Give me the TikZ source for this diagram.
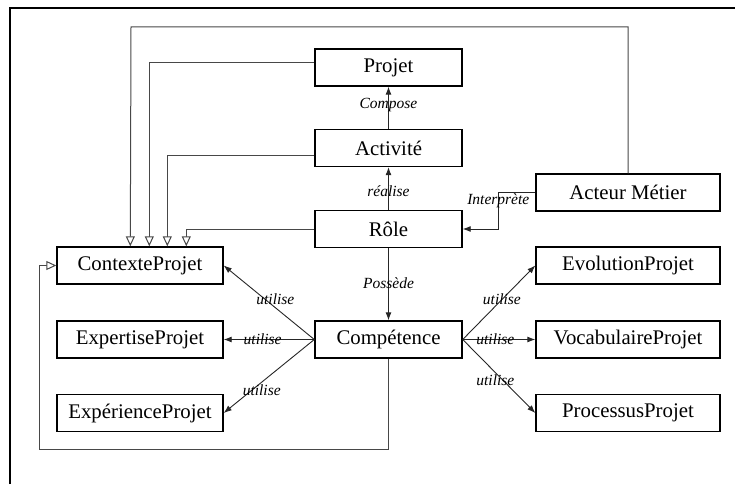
\documentclass[tikz,border=0pt]{standalone}
\usepackage{fontspec}
\setmainfont{Liberation Serif}
\usetikzlibrary{arrows.meta}

\begin{document}
\begin{tikzpicture}[x=1pt,y=-1pt,
  every node/.style={font=\fontsize{20.8}{24}\selectfont},
  boite/.style={draw,line width=1.4pt,minimum width=147pt,minimum height=37pt,inner sep=0pt},
  large/.style={boite,minimum width=166pt},
  droite/.style={boite,minimum width=184pt},
  lab/.style={font=\fontsize{15.5}{18}\selectfont\itshape,inner sep=0pt},
  fleche/.style={draw=black!85,line width=0.9pt,-{Latex[length=8pt,width=6pt]}},
  lien/.style={draw=black!72,line width=1pt,-{Triangle[open,length=10pt,width=9pt,fill=white]}}]
\useasboundingbox (0,0) rectangle (735,484);
\draw[line width=1.4pt] (10,484) -- (10,8) -- (735,8);
% boites du centre
\node[boite] (projet) at (388.5,67.5) {Projet};
\node[boite] (activite) at (388.5,148) {Activité};
\node[boite] (role) at (388.5,229) {Rôle};
\node[boite] (competence) at (388.5,339.5) {Compétence};
% boites de gauche
\node[large] (contexte) at (140,265.5) {ContexteProjet};
\node[large] (expertise) at (140,339.5) {ExpertiseProjet};
\node[large] (experience) at (140,413) {ExpérienceProjet};
% boites de droite
\node[droite] (acteur) at (628,192.5) {Acteur Métier};
\node[droite] (evolution) at (628,265.5) {EvolutionProjet};
\node[droite] (vocabulaire) at (628,339.5) {VocabulaireProjet};
\node[droite] (processus) at (628,413) {ProcessusProjet};
% liens vers ContexteProjet
\draw[lien] (acteur.north) |- (131,27) -- ([xshift=74pt]contexte.north west);
\draw[lien] ([yshift=4.5pt]projet.west) -| ([xshift=93pt]contexte.north west);
\draw[lien] ([yshift=-7pt]activite.west) -| ([xshift=111pt]contexte.north west);
\draw[lien] (role.west) -| ([xshift=130pt]contexte.north west);
\draw[lien] (competence.south) |- (39,449) |- (contexte.west);
% relations
\draw[fleche] (activite) -- (projet) node[lab,midway,yshift=3pt] {Compose};
\draw[fleche] (role) -- (activite) node[lab,midway,yshift=-3pt] {réalise};
\draw[fleche] (acteur.west) -- ++(-37,0) node[lab,pos=1,yshift=-8pt] {Interprète} |- (role.east);
\draw[fleche] (role) -- (competence) node[lab,midway,yshift=1pt] {Possède};
\draw[fleche] (competence.west) -- (contexte.east) node[lab,pos=0.43,yshift=8pt] {utilise};
\draw[fleche] (competence.west) -- (expertise.east) node[lab,pos=0.57] {utilise};
\draw[fleche] (competence.west) -- (experience.east) node[lab,pos=0.58,yshift=-8pt] {utilise};
\draw[fleche] (competence.east) -- (evolution.west) node[lab,pos=0.54] {utilise};
\draw[fleche] (competence.east) -- (vocabulaire.west) node[lab,pos=0.45] {utilise};
\draw[fleche] (competence.east) -- (processus.west) node[lab,pos=0.45,yshift=-8pt] {utilise};
\end{tikzpicture}
\end{document}
